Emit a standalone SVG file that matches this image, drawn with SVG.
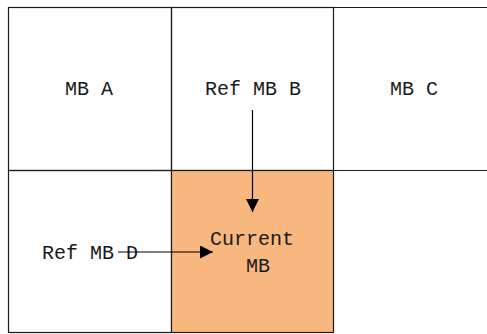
<svg xmlns="http://www.w3.org/2000/svg" width="487" height="334" viewBox="0 0 487 334">
<style>
.g{stroke:#1a1a1a;stroke-width:1.2;fill:none}
.t{font-family:"Liberation Mono","DejaVu Sans Mono",monospace;font-size:20px;fill:#1a1a1a;text-anchor:middle}
.c{stroke:#000;stroke-width:1.2;fill:none}
</style>
<defs>
<marker id="ah" viewBox="0 0 13 13" refX="13" refY="6.5" markerWidth="13" markerHeight="13" markerUnits="userSpaceOnUse" orient="auto">
<path d="M0,0 L13,6.5 L0,13 Z" fill="#000"/>
</marker>
</defs>
<rect x="0" y="0" width="487" height="334" fill="#fff"/>
<g id="mb-a"><rect class="g" x="8.5" y="7.5" width="163" height="163"/><text class="t" x="89" y="95">MB A</text></g>
<g id="ref-mb-b"><rect class="g" x="171.5" y="7.5" width="162" height="163"/><text class="t" x="253" y="95">Ref MB B</text></g>
<g id="mb-c"><path class="g" d="M333.5,7.5 H487 M333.5,170.5 H487"/><text class="t" x="414" y="95">MB C</text></g>
<g id="ref-mb-d"><rect class="g" x="8.5" y="170.5" width="163" height="162"/><text class="t" x="90" y="259">Ref MB D</text></g>
<g id="current-mb"><rect x="171.5" y="170.5" width="162" height="162" fill="#f7b77f" stroke="#1a1a1a" stroke-width="1.2"/><text class="t" x="252" y="245">Current</text><text class="t" x="258" y="272">MB</text></g>
<g id="connectors">
<line class="c" x1="252.5" y1="110" x2="252.5" y2="212" marker-end="url(#ah)"/>
<line class="c" x1="118" y1="252" x2="213" y2="252" marker-end="url(#ah)"/>
</g>
</svg>
